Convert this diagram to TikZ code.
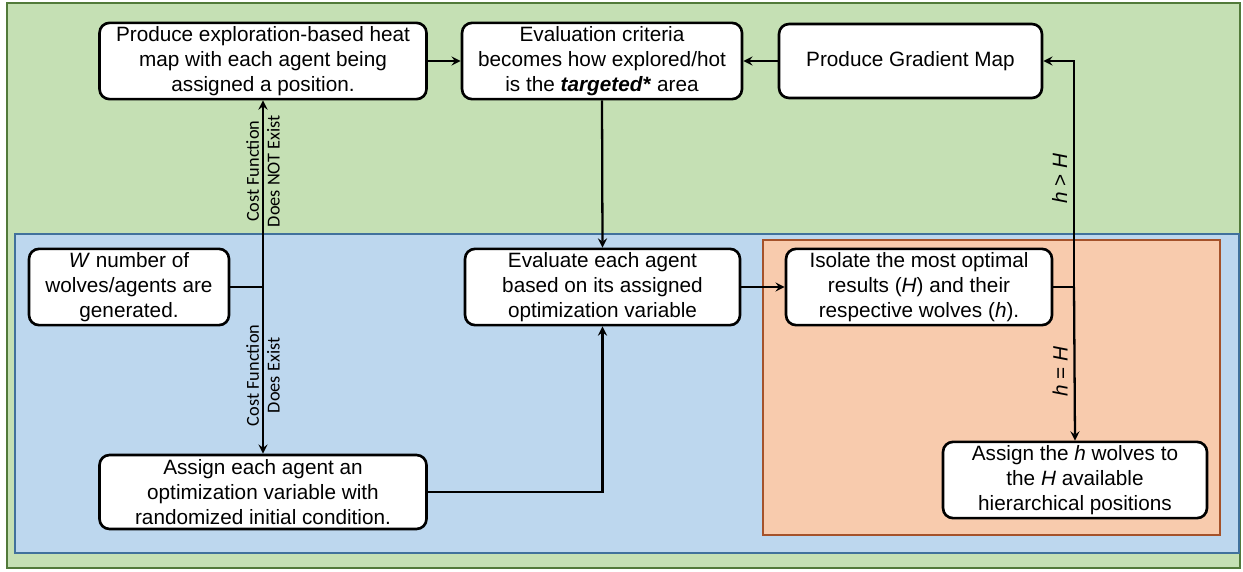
\documentclass[tikz,border=0pt]{standalone}
\usepackage{fontspec}
\setmainfont{Liberation Sans}
\newfontfamily\labelfont{Carlito}
\usepackage[dvipsnames]{xcolor}
\usetikzlibrary{shapes.geometric, arrows}
\definecolor{bggreen}{HTML}{C5E0B4}
\definecolor{edgegreen}{HTML}{527A3A}
\definecolor{bgblue}{HTML}{BDD7EE}
\definecolor{edgeblue}{HTML}{41719C}
\definecolor{bgorange}{HTML}{F8CBAD}
\definecolor{edgeorange}{HTML}{A5522A}
\tikzstyle{process} = [rectangle, rounded corners=0.2cm, minimum height=1.48cm, text centered, align=center, draw=black, line width=1.5pt, fill=white, inner sep=2pt, font=\fontsize{11.8}{14.2}\selectfont]
\tikzstyle{arrow} = [line width=1.3pt,->,>=stealth]
\tikzstyle{line} = [line width=1.3pt]
\tikzstyle{cond} = [rotate=90, align=center, font=\labelfont\fontsize{10.4}{11.8}\selectfont]
\tikzstyle{cmp} = [rotate=90, above, font=\fontsize{11.8}{14}\selectfont]

\begin{document}
\begin{tikzpicture}[x=0.02cm, y=0.02cm, yscale=-1]
\useasboundingbox (0,0) rectangle (1243,571);

% background regions
\draw[fill=bggreen, draw=edgegreen, line width=0.9pt] (7,3) rectangle (1240,568);
\draw[fill=bgblue, draw=edgeblue, line width=0.9pt] (15,234) rectangle (1239,553);
\draw[fill=bgorange, draw=edgeorange, line width=0.9pt] (763,240) rectangle (1220,535);

\node at (263, 61) (heat) [process, minimum width=6.54cm] {Produce exploration-based heat\\map with each agent being\\assigned a position.};
\node at (602, 61) (criteria) [process, minimum width=5.6cm] {Evaluation criteria\\becomes how explored/hot\\is the \textbf{\textit{targeted*}} area};
\node at (910.5, 61) (gradient) [process, minimum width=5.26cm] {Produce Gradient Map};

\node at (129, 287) (wolves) [process, minimum width=4cm] {\textit{W} number of\\wolves/agents are\\generated.};
\node at (602.5, 287) (evaluate) [process, minimum width=5.5cm] {Evaluate each agent\\based on its assigned\\optimization variable};
\node at (919, 287) (isolate) [process, minimum width=5.32cm] {Isolate the most optimal\\results (\textit{H}) and their\\respective wolves (\textit{h}).};
\node at (263, 492) (assign) [process, minimum width=6.54cm] {Assign each agent an\\optimization variable with\\randomized initial condition.};
\node at (1075, 480) (hier) [process, minimum width=5.28cm] {Assign the \textit{h} wolves to\\the \textit{H} available\\hierarchical positions};

\coordinate (split) at (263,287);
\coordinate (branch) at (1074,287);

\draw[line] (wolves.east) -- (split);
\draw[arrow] (split) -- node[cond, pos=0.62] {Cost Function\\Does NOT Exist} (heat.south);
\draw[arrow] (split) -- node[cond, pos=0.53] {Cost Function\\Does Exist} (assign.north);
\draw[arrow] (assign.east) -| (evaluate.south);
\draw[arrow] (criteria.south) -- (evaluate.north);
\draw[arrow] (heat) -- (criteria);
\draw[arrow] (gradient) -- (criteria);
\draw[arrow] (evaluate) -- (isolate);
\draw[line] (isolate.east) -- (branch);
\draw[arrow] (branch) |- node[cmp, pos=0.24] {\textit{h} > \textit{H}} (gradient.east);
\draw[arrow] (branch) -- node[cmp, pos=0.55] {\textit{h} = \textit{H}} (hier.north);

\end{tikzpicture}
\end{document}
